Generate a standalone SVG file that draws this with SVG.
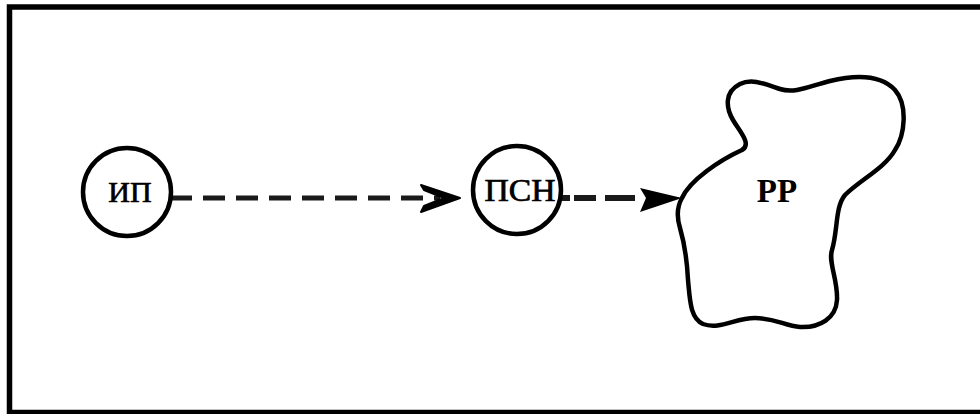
<svg xmlns="http://www.w3.org/2000/svg" width="980" height="414" viewBox="0 0 980 414">
<style>
.node{fill:#fff;stroke:#000;stroke-width:4.5}
.lbl{font-family:"Liberation Serif","Times New Roman",serif;fill:#000;text-anchor:middle}
.thick{stroke:#000;stroke-width:0.7}
.con{stroke:#1a1a1a;fill:none}
</style>
<rect x="0" y="0" width="980" height="414" fill="#fff"/>
<rect id="frame" x="9.5" y="7" width="1000" height="405.5" fill="none" stroke="#000" stroke-width="5.5"/>
<g id="connectors">
<line class="con" x1="170" y1="198" x2="440" y2="198" stroke-width="5" stroke-dasharray="22 11"/>
<path d="M421,185 L460,198 L421,212 L424,206 L444,198 L424,190 Z" fill="#000" stroke="#000" stroke-width="2" stroke-linejoin="round"/>
<path class="con" d="M561,198 L642,198" stroke-width="6" stroke-dasharray="9 4 22 9 30 100"/>
<path d="M640,188 L682,198 L640,212 L646,198 Z" fill="#000"/>
</g>
<g id="node-ip">
<circle class="node" cx="127" cy="192" r="44"/>
<text class="lbl thick" x="130" y="202" font-size="30">ИП</text>
</g>
<g id="node-psn">
<circle class="node" cx="517" cy="190" r="44"/>
<text class="lbl thick" x="520" y="201" font-size="31" textLength="71" lengthAdjust="spacingAndGlyphs">ПСН</text>
</g>
<g id="node-rr">
<path class="node" stroke-width="4" d="M682,198 C690,180 720,160 742,150 C752,144 740,132 733,120 C726,108 724,92 740,84 C752,78 765,84 780,89 C795,94 810,86 830,81 C855,75 880,74 895,90 C908,105 905,135 895,150 C885,168 860,180 845,195 C835,207 838,230 832,250 C828,262 838,280 837,300 C836,318 820,328 800,327 C785,326 775,318 755,318 C735,318 720,330 703,324 C690,318 690,300 688,280 C687,260 685,245 680,228 C676,215 678,205 682,198 Z"/>
<text class="lbl" x="777" y="202" font-size="33" font-weight="bold">РР</text>
</g>
</svg>
